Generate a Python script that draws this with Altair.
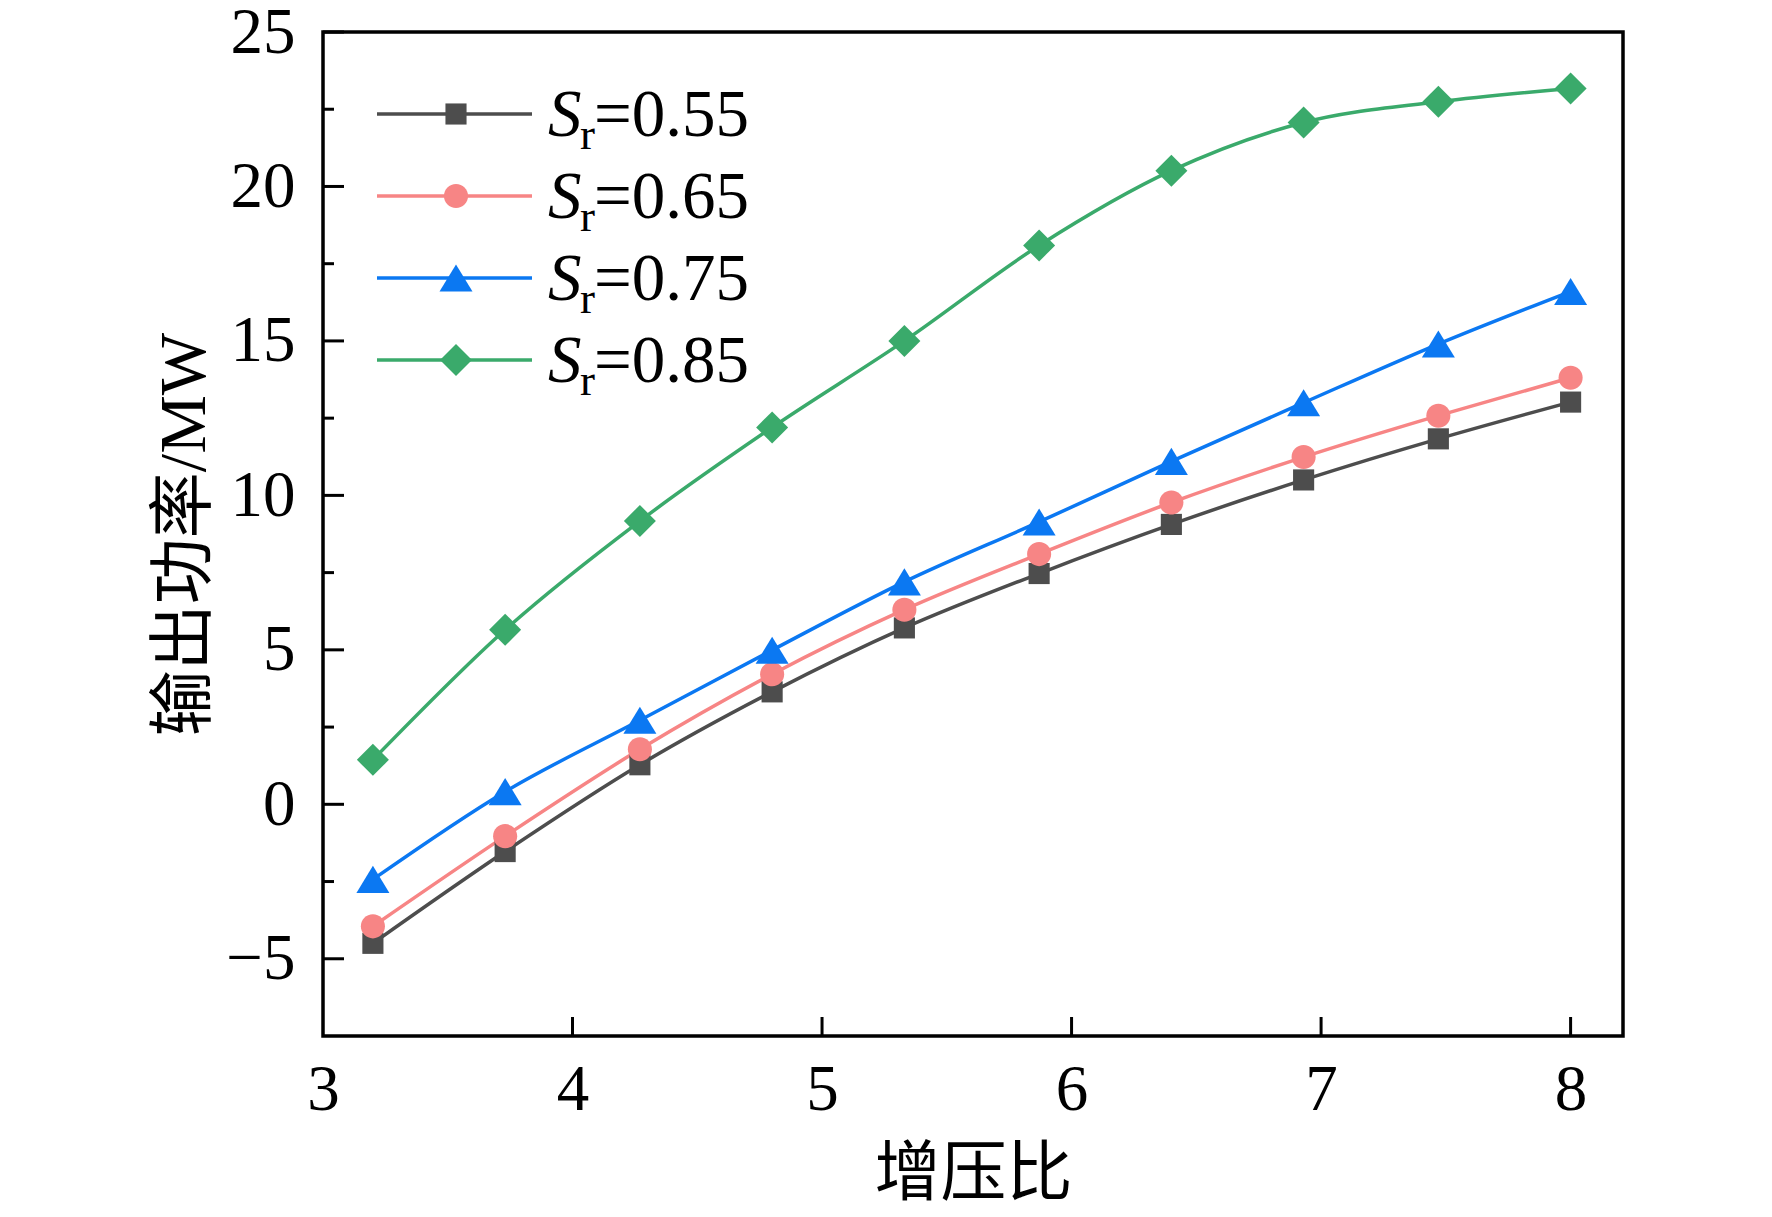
import altair as alt
import pandas as pd

# data
boost_ratio = [3.2, 3.73, 4.27, 4.8, 5.33, 5.87, 6.4, 6.93, 7.47, 8.0]
sr_055 = [-4.5, -1.53, 1.28, 3.64, 5.71, 7.47, 9.06, 10.5, 11.83, 13.02]
sr_065 = [-3.95, -1.03, 1.78, 4.21, 6.3, 8.1, 9.77, 11.24, 12.58, 13.81]
sr_075 = [-2.43, 0.41, 2.72, 4.99, 7.2, 9.14, 11.1, 13.0, 14.9, 16.6]
sr_085 = [1.44, 5.65, 9.17, 12.2, 15.0, 18.09, 20.51, 22.07, 22.74, 23.17]

series = ["0.55", "0.65", "0.75", "0.85"]
colors = ["#4d4d4d", "#f78585", "#0b78f2", "#3aaa6b"]
# marker outlines (unit box, scaled by the mark size)
shapes = [
    "M-0.64,-0.64L0.64,-0.64L0.64,0.64L-0.64,0.64Z",
    "M0.73,0A0.73,0.73,0,1,1,-0.73,0A0.73,0.73,0,1,1,0.73,0Z",
    "M0,-0.82L1,0.82L-1,0.82Z",
    "M0,-0.97L0.97,0L0,0.97L-0.97,0Z",
]

x_labels = [3, 4, 5, 6, 7, 8]
x_major = [4, 5, 6, 7, 8]
y_major = [-5, 0, 5, 10, 15, 20, 25]
y_minor = [-2.5, 2.5, 7.5, 12.5, 17.5, 22.5]

rows = []
for name, vals in zip(series, [sr_055, sr_065, sr_075, sr_085]):
    for x, y in zip(boost_ratio, vals):
        rows.append({"series": name, "ratio": x, "power": y})
data = pd.DataFrame(rows)

legend_df = pd.DataFrame({"series": series, "suffix": ["=" + s for s in series]})

W, H = 1300, 1004
MARK = 1089
serif = "Liberation Serif"
mixed = "Liberation Serif, Noto Sans CJK SC"

xs = alt.Scale(domain=[3, 8.21], nice=False, zero=False)
ys = alt.Scale(domain=[-7.5, 25], nice=False, zero=False)
x_axis = alt.Axis(title="增压比", values=x_labels, format="d", labelPadding=22, titlePadding=20)

color = alt.Color("series:N", scale=alt.Scale(domain=series, range=colors), legend=None)
shape = alt.Shape("series:N", scale=alt.Scale(domain=series, range=shapes), legend=None)

lines = alt.Chart(data).mark_line(interpolate="monotone", strokeWidth=3.5).encode(
    x=alt.X("ratio:Q", scale=xs, axis=x_axis),
    y=alt.Y(
        "power:Q", scale=ys,
        axis=alt.Axis(title="输出功率/MW", values=y_major, format="d", labelPadding=28, titlePadding=7),
    ),
    color=color, detail="series:N",
)
points = alt.Chart(data).mark_point(filled=True, opacity=1, size=MARK).encode(
    x=alt.X("ratio:Q", scale=xs, axis=x_axis),
    y=alt.Y("power:Q", scale=ys, axis=None),
    color=color, shape=shape,
)

# inward ticks
xt = alt.Chart(pd.DataFrame({"ratio": x_major})).mark_rule(color="black", strokeWidth=3).encode(
    x=alt.X("ratio:Q", scale=xs, axis=x_axis), y=alt.value(H), y2=alt.value(H - 19)
)
yt_major = alt.Chart(pd.DataFrame({"v": y_major})).mark_rule(color="black", strokeWidth=3).encode(
    y=alt.Y("v:Q", scale=ys, axis=None), x=alt.value(0), x2=alt.value(21)
)
yt_minor = alt.Chart(pd.DataFrame({"v": y_minor})).mark_rule(color="black", strokeWidth=3).encode(
    y=alt.Y("v:Q", scale=ys, axis=None), x=alt.value(0), x2=alt.value(11)
)

# legend with italic S and subscript r
leg_y = alt.Y(
    "series:N",
    scale=alt.Scale(type="point", domain=series, range=[82, 328], padding=0),
    axis=None,
)
leg_line = alt.Chart(legend_df).mark_rule(strokeWidth=3.5).encode(
    x=alt.value(54), x2=alt.value(209), y=leg_y, color=color
)
leg_pt = alt.Chart(legend_df).mark_point(filled=True, opacity=1, size=MARK).encode(
    x=alt.value(133), y=leg_y, color=color, shape=shape
)
leg_s = alt.Chart(legend_df).mark_text(
    text="S", font=serif, fontStyle="italic", fontSize=67, align="left",
    baseline="alphabetic", dy=22, color="black"
).encode(x=alt.value(225), y=leg_y)
leg_r = alt.Chart(legend_df).mark_text(
    text="r", font=serif, fontSize=45, align="left", baseline="alphabetic", dy=35, color="black"
).encode(x=alt.value(257), y=leg_y)
leg_txt = alt.Chart(legend_df).mark_text(
    font=serif, fontSize=67, align="left", baseline="alphabetic", dy=22, color="black"
).encode(x=alt.value(271), y=leg_y, text="suffix:N")

chart = (
    alt.layer(lines, points, xt, yt_major, yt_minor, leg_line, leg_pt, leg_s, leg_r, leg_txt)
    .resolve_scale(y="independent")
    .properties(
        width=W, height=H,
        autosize=alt.AutoSizeParams(type="none"),
        padding={"left": 315, "top": 24, "right": 120, "bottom": 176},
        background="white",
    )
    .configure_view(stroke="black", strokeWidth=3.5)
    .configure_axis(
        ticks=False, tickSize=0, domain=False, grid=False, labelFlush=False,
        labelFont=serif, labelFontSize=65, labelColor="black",
        titleFont=mixed, titleFontSize=66, titleFontWeight="normal", titleColor="black",
    )
)

chart.save("out.html", embed_options={"renderer": "svg", "actions": False})
